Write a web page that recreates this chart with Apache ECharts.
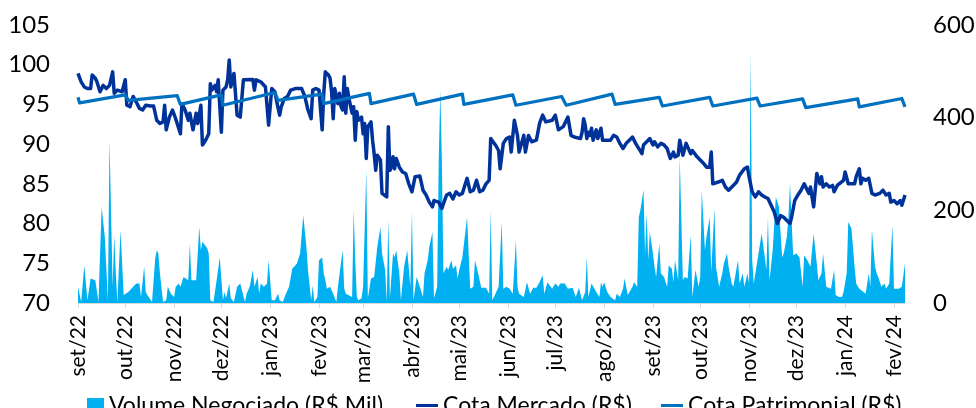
<!DOCTYPE html>
<html>
<head>
<meta charset="utf-8">
<script src="https://cdn.jsdelivr.net/npm/echarts@6.0.0/dist/echarts.min.js"></script>
<style>
  html, body { margin: 0; padding: 0; background: #fff; }
  #chart { width: 976px; height: 408px; }
</style>
</head>
<body>
<div id="chart"></div>
<script>
// eixo x: dias corridos desde 01/09/2022
const mesInicio = [0, 30, 61, 91, 122, 153, 181, 212, 242, 273, 303, 334, 365, 395, 426, 456, 487, 518];
const mesRotulos = ["set/22", "out/22", "nov/22", "dez/22", "jan/23", "fev/23", "mar/23", "abr/23", "mai/23",
  "jun/23", "jul/23", "ago/23", "set/23", "out/23", "nov/23", "dez/23", "jan/24", "fev/24"];
const ultimoDia = 525;

// [dia, R$ mil]
const volumeNegociado = [
  [0, 35], [2, 2], [4, 81], [6, 6], [8, 53], [11, 49], [12, 45], [13, 2], [15, 207], [17, 143], [19, 6], [20, 351],
  [22, 35], [23, 146], [24, 64], [25, 2], [27, 157], [29, 17], [30, 20], [32, 24], [35, 35], [37, 42], [39, 42],
  [40, 13], [42, 78], [43, 24], [44, 17], [47, 2], [49, 96], [50, 114], [51, 107], [52, 64], [54, 2], [56, 6],
  [57, 35], [59, 20], [61, 13], [62, 35], [64, 42], [65, 35], [67, 56], [68, 60], [70, 49], [71, 128], [72, 49],
  [75, 49], [77, 164], [78, 114], [79, 132], [82, 118], [83, 107], [84, 6], [86, 2], [88, 49], [90, 98], [92, 6],
  [93, 24], [94, 10], [96, 42], [97, 10], [99, 2], [101, 35], [103, 42], [104, 38], [106, 2], [107, 20], [109, 35],
  [111, 71], [112, 35], [114, 56], [115, 20], [116, 42], [118, 35], [120, 42], [121, 92], [123, 6], [125, 6],
  [127, 20], [128, 6], [130, 2], [132, 20], [134, 35], [136, 74], [139, 85], [141, 107], [143, 189], [145, 121],
  [146, 71], [148, 6], [149, 38], [150, 2], [152, 13], [153, 92], [155, 99], [156, 64], [157, 49], [158, 31],
  [160, 35], [162, 20], [164, 2], [165, 35], [168, 114], [169, 31], [170, 20], [174, 13], [175, 200], [176, 92],
  [177, 13], [178, 6], [180, 10], [181, 35], [183, 287], [184, 10], [186, 53], [188, 56], [190, 121], [192, 164],
  [193, 107], [195, 71], [196, 2], [197, 182], [198, 10], [200, 107], [201, 99], [202, 114], [204, 64], [205, 6],
  [207, 78], [209, 114], [211, 35], [212, 197], [213, 6], [215, 56], [217, 35], [219, 13], [220, 64], [222, 92],
  [223, 121], [225, 153], [226, 10], [228, 35], [229, 308], [230, 459], [231, 308], [232, 64], [234, 78], [235, 71],
  [237, 92], [238, 74], [240, 81], [241, 53], [242, 71], [244, 99], [247, 185], [249, 31], [251, 35], [252, 92],
  [254, 64], [256, 33], [257, 31], [259, 33], [261, 20], [262, 200], [263, 6], [265, 20], [267, 35], [269, 175],
  [270, 31], [272, 35], [274, 31], [276, 20], [278, 135], [279, 35], [280, 20], [283, 13], [285, 45], [287, 20],
  [289, 33], [291, 33], [293, 45], [295, 60], [296, 20], [298, 45], [301, 31], [303, 42], [305, 35], [306, 42],
  [307, 38], [309, 42], [311, 31], [312, 35], [314, 33], [316, 13], [318, 33], [320, 6], [322, 24], [323, 99],
  [324, 13], [326, 42], [327, 42], [329, 24], [331, 13], [332, 45], [333, 35], [334, 45], [336, 24], [338, 13],
  [339, 17], [341, 6], [342, 20], [344, 13], [346, 31], [347, 53], [349, 17], [350, 20], [352, 35], [353, 45],
  [355, 35], [356, 185], [357, 200], [358, 222], [359, 244], [360, 107], [361, 193], [362, 92], [363, 153],
  [365, 107], [366, 78], [367, 56], [369, 128], [370, 64], [372, 56], [374, 35], [375, 81], [377, 74], [378, 45],
  [379, 92], [381, 49], [382, 315], [384, 49], [385, 56], [387, 53], [388, 49], [389, 146], [390, 13], [392, 71],
  [394, 35], [395, 56], [396, 244], [398, 114], [399, 143], [401, 185], [402, 67], [404, 204], [405, 78], [407, 35],
  [409, 64], [410, 85], [412, 107], [413, 78], [415, 42], [416, 35], [417, 38], [419, 92], [420, 42], [422, 64],
  [423, 35], [425, 64], [426, 42], [427, 539], [428, 92], [429, 42], [431, 85], [432, 107], [434, 150], [436, 99],
  [437, 71], [438, 185], [439, 49], [441, 114], [442, 171], [443, 229], [445, 207], [447, 99], [448, 107],
  [450, 143], [451, 185], [452, 258], [454, 103], [456, 107], [458, 99], [460, 35], [461, 103], [463, 92], [465, 78],
  [467, 150], [469, 85], [470, 49], [472, 64], [473, 107], [475, 35], [476, 38], [478, 31], [480, 71], [481, 17],
  [483, 13], [485, 13], [486, 24], [488, 64], [489, 175], [491, 161], [493, 78], [494, 42], [496, 31], [497, 35],
  [500, 20], [502, 64], [503, 35], [504, 157], [506, 78], [507, 64], [508, 56], [510, 35], [512, 42], [513, 31],
  [515, 42], [517, 168], [518, 31], [521, 31], [523, 35], [525, 85]
];

// [dia, R$]
const cotaMercado = [
  [0, 98.9], [2, 97.85], [4, 97.2], [6, 97.0], [8, 97.0], [9, 98.7], [11, 98.3], [12, 97.85], [14, 96.6], [16, 97.4],
  [18, 97.0], [20, 97.4], [22, 99.1], [23, 96.4], [25, 96.8], [28, 96.6], [30, 98.1], [31, 94.9], [33, 94.7],
  [35, 96.0], [37, 95.3], [39, 94.5], [41, 94.3], [43, 94.9], [46, 94.8], [48, 94.8], [50, 93.0], [52, 92.6],
  [54, 92.8], [55, 94.9], [56, 91.8], [58, 93.4], [60, 94.3], [62, 93.2], [65, 91.3], [66, 95.1], [68, 94.3],
  [70, 93.0], [71, 93.9], [73, 91.8], [75, 93.9], [76, 92.6], [78, 94.9], [79, 89.9], [81, 90.5], [83, 91.3],
  [84, 97.6], [85, 96.8], [87, 97.4], [88, 96.6], [89, 98.1], [91, 91.5], [92, 96.8], [94, 97.2], [95, 98.1],
  [96, 100.6], [97, 97.2], [99, 98.9], [101, 93.65], [103, 93.4], [105, 98.1], [106, 98.1], [111, 98.15],
  [112, 96.8], [113, 98.1], [116, 97.85], [119, 97.2], [121, 92.4], [123, 97.0], [125, 96.6], [126, 95.5],
  [128, 93.65], [129, 94.7], [131, 95.75], [133, 96.0], [135, 96.8], [138, 97.0], [142, 97.0], [144, 96.0],
  [146, 94.3], [148, 93.2], [149, 96.8], [151, 97.0], [153, 96.8], [155, 91.8], [156, 96.4], [157, 99.1],
  [159, 98.7], [160, 98.3], [161, 96.6], [162, 93.2], [163, 97.0], [164, 97.2], [165, 95.1], [166, 96.4],
  [167, 94.7], [168, 94.3], [169, 98.5], [170, 93.9], [171, 97.0], [172, 95.75], [174, 93.9], [175, 94.7],
  [176, 90.5], [177, 94.1], [178, 93.0], [180, 93.4], [181, 91.3], [182, 92.6], [183, 88.2], [184, 92.2],
  [186, 92.8], [187, 90.5], [188, 88.8], [189, 86.7], [190, 88.6], [192, 88.0], [193, 83.8], [196, 83.35],
  [197, 92.2], [198, 86.7], [199, 87.1], [200, 88.4], [201, 86.9], [202, 88.2], [204, 87.1], [206, 86.5],
  [208, 86.3], [210, 85.0], [212, 84.0], [214, 85.9], [217, 86.0], [219, 84.2], [221, 83.6], [223, 82.7],
  [225, 82.1], [226, 82.9], [229, 82.7], [231, 81.9], [232, 82.5], [234, 83.6], [236, 83.8], [238, 83.1],
  [240, 84.0], [242, 83.6], [244, 83.8], [247, 85.7], [249, 84.0], [251, 84.2], [253, 85.45], [255, 84.0],
  [257, 84.2], [259, 85.0], [261, 85.45], [262, 90.7], [265, 89.9], [267, 89.2], [268, 86.9], [270, 90.1],
  [272, 90.7], [274, 90.9], [275, 89.0], [277, 93.0], [279, 91.1], [280, 89.0], [283, 91.1], [284, 89.0],
  [286, 91.1], [288, 90.3], [291, 90.5], [293, 92.6], [295, 93.65], [297, 92.8], [301, 93.0], [303, 93.65],
  [305, 91.8], [308, 92.2], [311, 93.4], [313, 91.1], [315, 90.9], [319, 90.7], [320, 91.5], [321, 93.2],
  [322, 92.4], [323, 90.7], [324, 91.5], [325, 91.1], [326, 92.0], [327, 90.5], [329, 91.8], [330, 90.7],
  [332, 92.0], [333, 90.5], [338, 90.5], [340, 91.1], [342, 90.9], [344, 90.1], [346, 89.45], [348, 90.1],
  [350, 90.5], [352, 90.9], [354, 90.1], [358, 88.8], [359, 89.9], [363, 90.7], [365, 89.9], [366, 90.3],
  [368, 89.65], [370, 90.1], [372, 89.9], [374, 89.45], [376, 88.2], [378, 89.0], [379, 88.4], [381, 88.6],
  [382, 90.5], [384, 88.6], [386, 90.1], [389, 88.8], [390, 89.2], [393, 88.4], [395, 88.0], [397, 87.6],
  [399, 87.1], [401, 87.1], [402, 89.0], [403, 85.0], [406, 85.2], [409, 85.45], [411, 84.6], [413, 84.2],
  [416, 84.8], [418, 85.2], [420, 86.1], [421, 86.3], [423, 86.9], [425, 87.1], [426, 85.9], [428, 84.0],
  [430, 83.35], [432, 84.0], [434, 83.6], [436, 83.35], [438, 83.15], [440, 82.3], [442, 81.45], [443, 81.2],
  [444, 80.0], [446, 81.0], [448, 80.8], [450, 80.4], [452, 80.0], [453, 80.8], [455, 82.9], [457, 83.6],
  [459, 84.2], [461, 85.0], [464, 83.8], [465, 84.6], [467, 82.1], [469, 86.3], [471, 85.0], [472, 85.9],
  [473, 84.6], [475, 85.0], [477, 84.6], [479, 84.8], [480, 84.0], [482, 84.8], [486, 85.45], [487, 86.5],
  [489, 85.0], [491, 85.0], [493, 85.0], [494, 85.9], [496, 86.9], [497, 85.0], [498, 85.7], [500, 85.45],
  [502, 85.7], [504, 83.8], [506, 83.6], [509, 83.8], [511, 84.2], [513, 83.6], [515, 83.8], [516, 82.7],
  [518, 82.9], [520, 82.5], [522, 82.9], [523, 82.3], [525, 83.6]
];

// [dia, R$]
const cotaPatrimonial = [
  [0, 95.9], [1, 95.2], [30, 96.2], [32, 95.5], [63, 96.1], [65, 95.0], [91, 96.2], [92, 94.9], [125, 96.5],
  [127, 95.5], [155, 96.3], [156, 95.1], [185, 96.4], [186, 95.1], [213, 96.3], [215, 95.0], [244, 96.3],
  [245, 95.0], [276, 96.2], [278, 94.9], [307, 96.0], [310, 94.9], [339, 96.3], [341, 95.0], [369, 95.9],
  [371, 94.8], [401, 95.9], [403, 94.8], [431, 95.8], [433, 94.8], [460, 95.7], [462, 94.6], [495, 95.7],
  [496, 94.7], [523, 95.75], [525, 94.7]
];

const fonte = "Lato, 'Noto Sans', sans-serif";
const chart = echarts.init(document.getElementById("chart"));

function legenda(nome, left, w, h) {
  return {
    data: [nome],
    left: left,
    top: 394,
    padding: 0,
    icon: "rect",
    itemWidth: w,
    itemHeight: h,
    textStyle: { fontFamily: fonte, fontSize: 23, color: "#000" }
  };
}

chart.setOption({
  animation: false,
  backgroundColor: "#fff",
  grid: { left: 78, right: 71, top: 25, bottom: 105, containLabel: false, outerBoundsMode: "none" },
  legend: [
    legenda("Volume Negociado (R$ Mil)", 87, 17, 15),
    legenda("Cota Mercado (R$)", 416, 22, 3),
    legenda("Cota Patrimonial (R$)", 661, 22, 3)
  ],
  xAxis: {
    type: "value",
    min: 0,
    max: ultimoDia,
    splitLine: { show: false },
    axisLine: { show: true, lineStyle: { color: "#d9d9d9", width: 1 } },
    axisTick: { show: true, customValues: mesInicio, length: 5, lineStyle: { color: "#d9d9d9" } },
    axisLabel: {
      customValues: mesInicio,
      rotate: 90,
      margin: 12,
      fontFamily: fonte,
      fontSize: 21,
      color: "#000",
      formatter: v => mesRotulos[mesInicio.indexOf(v)]
    }
  },
  yAxis: [
    {
      type: "value",
      min: 70,
      max: 105,
      interval: 5,
      splitLine: { show: false },
      axisLine: { show: false },
      axisTick: { show: false },
      axisLabel: { margin: 28, fontFamily: fonte, fontSize: 24, color: "#000" }
    },
    {
      type: "value",
      min: 0,
      max: 600,
      interval: 200,
      position: "right",
      splitLine: { show: false },
      axisLine: { show: false },
      axisTick: { show: false },
      axisLabel: { margin: 28, fontFamily: fonte, fontSize: 24, color: "#000" }
    }
  ],
  series: [
    {
      name: "Volume Negociado (R$ Mil)",
      type: "line",
      yAxisIndex: 1,
      data: volumeNegociado,
      showSymbol: false,
      color: "#00b0f0",
      lineStyle: { width: 0 },
      areaStyle: { color: "#00b0f0", opacity: 1 }
    },
    {
      name: "Cota Mercado (R$)",
      type: "line",
      data: cotaMercado,
      showSymbol: false,
      color: "#003399",
      lineStyle: { width: 3.5, join: "round" }
    },
    {
      name: "Cota Patrimonial (R$)",
      type: "line",
      data: cotaPatrimonial,
      showSymbol: false,
      color: "#0070c0",
      lineStyle: { width: 3.25, join: "round" }
    }
  ]
});
</script>
</body>
</html>
